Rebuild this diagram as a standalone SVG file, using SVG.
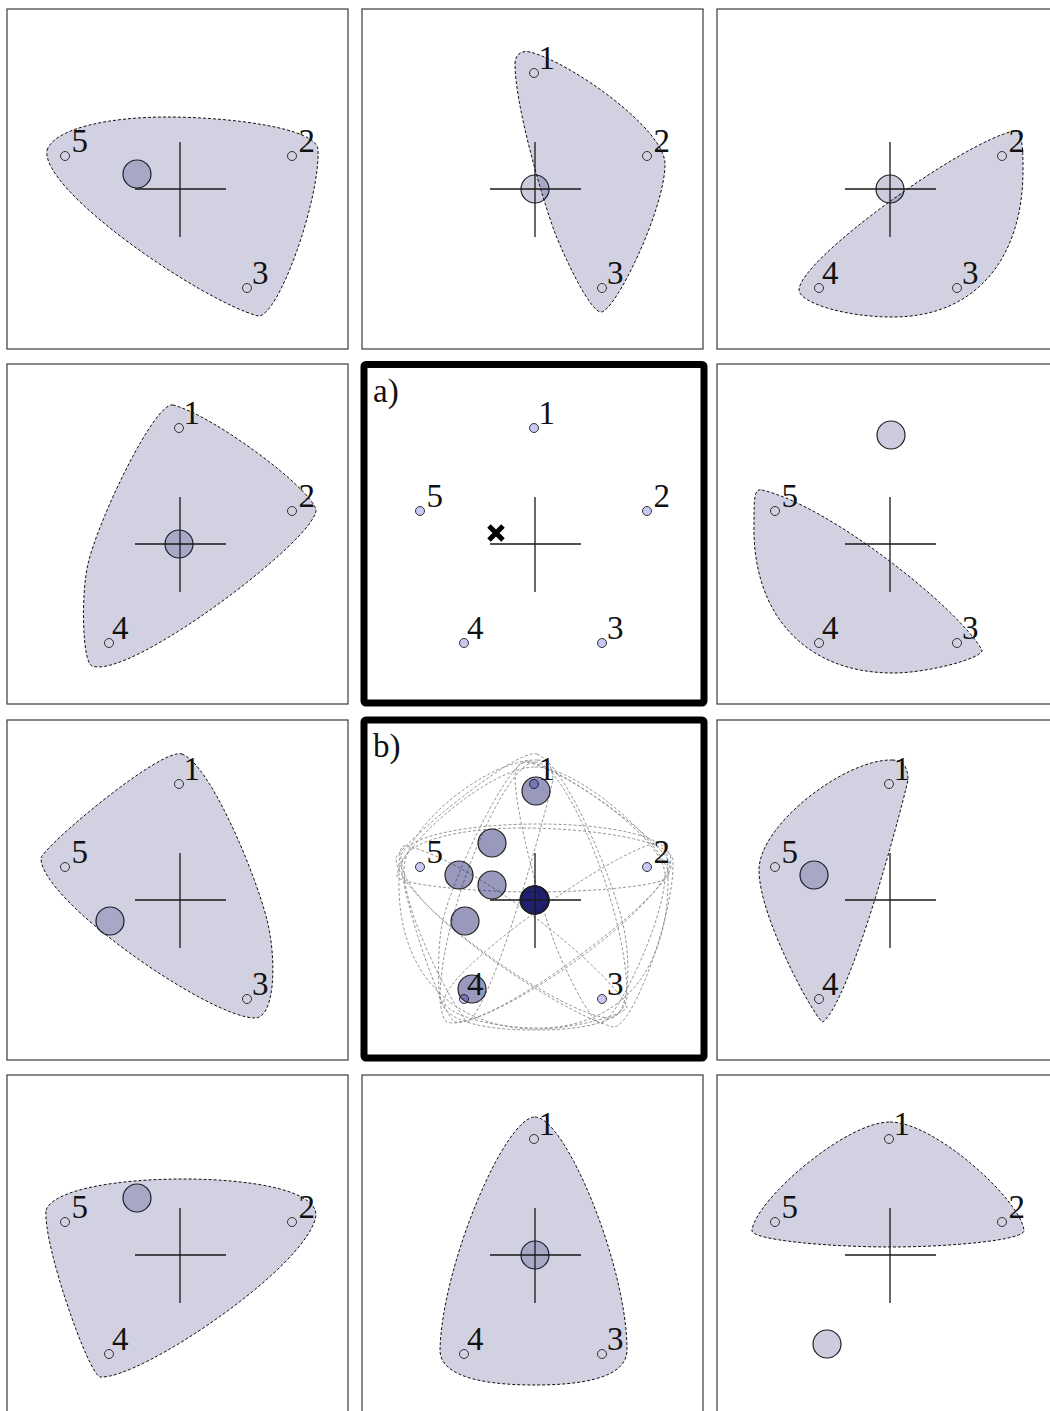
<svg xmlns="http://www.w3.org/2000/svg" xmlns:xlink="http://www.w3.org/1999/xlink" width="1050" height="1411" viewBox="0 0 1050 1411">
<style>
.frame{fill:#fff;stroke:#4a4a4a;stroke-width:1.3}
.frameb{fill:#fff;stroke:#000;stroke-width:7;stroke-linejoin:round}
.blob{fill:#00005a;fill-opacity:0.18;stroke:#111;stroke-width:1;stroke-dasharray:3 2}
.ghost{fill:none;stroke:#8a8a8a;stroke-width:0.9;stroke-dasharray:3 2}
.cross{fill:none;stroke:#1a1a1a;stroke-width:1.3}
.pt{fill:none;stroke:#333;stroke-width:1}
.pta{fill:#c8c8f2;stroke:#333;stroke-width:1}
.mean{fill:#00005a;fill-opacity:0.2;stroke:#222;stroke-width:1.2}
.meanb{fill:#00005a;fill-opacity:0.4;stroke:#222;stroke-width:1.2}
.lbl{font-family:"Liberation Serif",serif;font-size:33px;fill:#111;stroke:none}
.xmark{stroke:#000;stroke-width:5}
</style>
<defs>
<path id="cross" d="M-45,0H46M0,-47V48"/>
<path id="t523" d="M-133,-39 C-125,-61 -70,-72 -13,-72 C50,-72 138,-61 138,-39 C140,11 98,129 78,127 C20,111 -140,1 -133,-39 Z"/>
<path id="t123" d="M-20,-125 C-20,-135 -13,-139 -5,-137 C35,-127 130,-60 130,-25 C130,20 80,123 66,123 C55,123 29,67 20,44 C6,6 -20,-85 -20,-125 Z"/>
<path id="t243" d="M124,-58 C74,-48 -91,71 -91,101 C-91,113 -47,128 3,128 C85,128 134,70 133,-22 C133,-42 132,-60 124,-58 Z"/>
<path id="t124" d="M-7,-139 C33,-129 132,-55 136,-34 C136,-5 -50,136 -88,122 C-98,118 -99,49 -92,20 C-82,-24 -25,-143 -7,-139 Z"/>
<path id="t534" d="M-128,-54 C-60,-38 68,64 92,106 C94,114 38,129 3,129 C-85,129 -138,70 -136,-20 C-136,-45 -136,-56 -128,-54 Z"/>
<path id="t153" d="M2,-146 C30,-136 76,-25 87,20 C97,60 95,118 75,118 C30,118 -140,0 -139,-42 C-134,-56 -18,-153 2,-146 Z"/>
<path id="t154" d="M2,-140 C14,-140 18,-132 18,-120 C9,-80 -40,100 -67,122 C-71,125 -131,20 -131,-30 C-131,-75 -45,-141 2,-140 Z"/>
<path id="t524" d="M-134,-45 C-126,-66 -60,-76 3,-76 C70,-76 136,-65 136,-40 C130,10 -40,125 -80,122 C-92,118 -137,-10 -134,-45 Z"/>
<path id="t143" d="M0,-138 C30,-138 92,10 92,95 C92,125 40,130 0,130 C-40,130 -95,125 -95,95 C-93,10 -30,-138 0,-138 Z"/>
<path id="t152" d="M0,-133 C45,-133 130,-55 134,-25 C137,-15 60,-8 0,-8 C-60,-8 -141,-15 -138,-25 C-134,-55 -45,-133 0,-133 Z"/>
<g id="n1"><circle cx="-1" cy="-116" r="4.5"/><text x="3.5" y="-120" font-family="Liberation Serif, serif" font-size="33" fill="#111" stroke="none">1</text></g>
<g id="n2"><circle cx="112" cy="-33" r="4.5"/><text x="118.5" y="-37" font-family="Liberation Serif, serif" font-size="33" fill="#111" stroke="none">2</text></g>
<g id="n3"><circle cx="67" cy="99" r="4.5"/><text x="72" y="95" font-family="Liberation Serif, serif" font-size="33" fill="#111" stroke="none">3</text></g>
<g id="n4"><circle cx="-71" cy="99" r="4.5"/><text x="-68" y="95" font-family="Liberation Serif, serif" font-size="33" fill="#111" stroke="none">4</text></g>
<g id="n5"><circle cx="-115" cy="-33" r="4.5"/><text x="-108.5" y="-37" font-family="Liberation Serif, serif" font-size="33" fill="#111" stroke="none">5</text></g>
</defs>

<g id="panel-523" transform="translate(180,189)">
<rect class="frame" x="-173" y="-180" width="341" height="340"/>
<circle class="mean" cx="-43" cy="-15" r="14"/>
<use href="#t523" class="blob"/>
<use href="#cross" class="cross"/>
<use href="#n5" class="pt"/><use href="#n2" class="pt"/><use href="#n3" class="pt"/>
</g>

<g id="panel-123" transform="translate(535,189)">
<rect class="frame" x="-173" y="-180" width="341" height="340"/>
<circle class="mean" cx="0" cy="0" r="14"/>
<use href="#t123" class="blob"/>
<use href="#cross" class="cross"/>
<use href="#n1" class="pt"/><use href="#n2" class="pt"/><use href="#n3" class="pt"/>
</g>

<g id="panel-243" transform="translate(890,189)">
<rect class="frame" x="-173" y="-180" width="341" height="340"/>
<circle class="mean" cx="0" cy="0" r="14"/>
<use href="#t243" class="blob"/>
<use href="#cross" class="cross"/>
<use href="#n2" class="pt"/><use href="#n4" class="pt"/><use href="#n3" class="pt"/>
</g>

<g id="panel-124" transform="translate(180,544)">
<rect class="frame" x="-173" y="-180" width="341" height="340"/>
<circle class="mean" cx="-1" cy="0" r="14"/>
<use href="#t124" class="blob"/>
<use href="#cross" class="cross"/>
<use href="#n1" class="pt"/><use href="#n2" class="pt"/><use href="#n4" class="pt"/>
</g>

<g id="panel-a" transform="translate(535,544)">
<rect class="frameb" x="-171" y="-179.5" width="340" height="338.5" rx="2"/>
<text class="lbl" x="-162" y="-142">a)</text>
<use href="#cross" class="cross"/>
<use href="#n1" class="pta"/><use href="#n2" class="pta"/><use href="#n3" class="pta"/><use href="#n4" class="pta"/><use href="#n5" class="pta"/>
<path class="xmark" d="M-46,-18L-32,-4M-46,-4L-32,-18"/>
</g>

<g id="panel-534" transform="translate(890,544)">
<rect class="frame" x="-173" y="-180" width="341" height="340"/>
<circle class="mean" cx="1" cy="-109" r="14"/>
<use href="#t534" class="blob"/>
<use href="#cross" class="cross"/>
<use href="#n5" class="pt"/><use href="#n3" class="pt"/><use href="#n4" class="pt"/>
</g>

<g id="panel-153" transform="translate(180,900)">
<rect class="frame" x="-173" y="-180" width="341" height="340"/>
<circle class="mean" cx="-70" cy="21" r="14"/>
<use href="#t153" class="blob"/>
<use href="#cross" class="cross"/>
<use href="#n1" class="pt"/><use href="#n5" class="pt"/><use href="#n3" class="pt"/>
</g>

<g id="panel-b" transform="translate(535,900)">
<rect class="frameb" x="-171" y="-180" width="340" height="338" rx="2"/>
<text class="lbl" x="-162" y="-143">b)</text>
<use href="#t523" class="ghost"/><use href="#t123" class="ghost"/><use href="#t243" class="ghost"/><use href="#t124" class="ghost"/><use href="#t534" class="ghost"/>
<use href="#t153" class="ghost"/><use href="#t154" class="ghost"/><use href="#t524" class="ghost"/><use href="#t143" class="ghost"/><use href="#t152" class="ghost"/>
<circle class="pta" cx="-1" cy="-116" r="4.5"/><circle class="pta" cx="112" cy="-33" r="4.5"/><circle class="pta" cx="67" cy="99" r="4.5"/><circle class="pta" cx="-71" cy="99" r="4.5"/><circle class="pta" cx="-115" cy="-33" r="4.5"/>
<circle class="meanb" cx="-43" cy="-15" r="14"/>
<circle class="meanb" cx="0" cy="0" r="14"/>
<circle class="meanb" cx="0" cy="0" r="14"/>
<circle class="meanb" cx="-1" cy="0" r="14"/>
<circle class="meanb" cx="1" cy="-109" r="14"/>
<circle class="meanb" cx="-70" cy="21" r="14"/>
<circle class="meanb" cx="-76" cy="-25" r="14"/>
<circle class="meanb" cx="-43" cy="-57" r="14"/>
<circle class="meanb" cx="0" cy="0" r="14"/>
<circle class="meanb" cx="-63" cy="89" r="14"/>
<use href="#cross" class="cross"/>
<text class="lbl" x="3.5" y="-120">1</text><text class="lbl" x="118.5" y="-37">2</text><text class="lbl" x="72" y="95">3</text><text class="lbl" x="-68" y="95">4</text><text class="lbl" x="-108.5" y="-37">5</text>
</g>

<g id="panel-154" transform="translate(890,900)">
<rect class="frame" x="-173" y="-180" width="341" height="340"/>
<circle class="mean" cx="-76" cy="-25" r="14"/>
<use href="#t154" class="blob"/>
<use href="#cross" class="cross"/>
<use href="#n1" class="pt"/><use href="#n5" class="pt"/><use href="#n4" class="pt"/>
</g>

<g id="panel-524" transform="translate(180,1255)">
<rect class="frame" x="-173" y="-180" width="341" height="340"/>
<circle class="mean" cx="-43" cy="-57" r="14"/>
<use href="#t524" class="blob"/>
<use href="#cross" class="cross"/>
<use href="#n5" class="pt"/><use href="#n2" class="pt"/><use href="#n4" class="pt"/>
</g>

<g id="panel-143" transform="translate(535,1255)">
<rect class="frame" x="-173" y="-180" width="341" height="340"/>
<circle class="mean" cx="0" cy="0" r="14"/>
<use href="#t143" class="blob"/>
<use href="#cross" class="cross"/>
<use href="#n1" class="pt"/><use href="#n4" class="pt"/><use href="#n3" class="pt"/>
</g>

<g id="panel-152" transform="translate(890,1255)">
<rect class="frame" x="-173" y="-180" width="341" height="340"/>
<circle class="mean" cx="-63" cy="89" r="14"/>
<use href="#t152" class="blob"/>
<use href="#cross" class="cross"/>
<use href="#n1" class="pt"/><use href="#n5" class="pt"/><use href="#n2" class="pt"/>
</g>
</svg>
